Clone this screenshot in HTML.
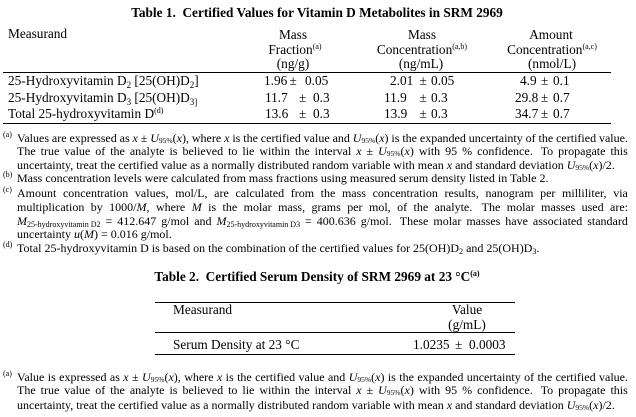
<!DOCTYPE html>
<html><head><meta charset="utf-8">
<style>
html,body{margin:0;padding:0;background:#fff;}
#p{position:relative;width:636px;height:417px;overflow:hidden;background:#fff;font-family:"Liberation Serif","Times New Roman",serif;color:#000;}
.t{position:absolute;white-space:nowrap;line-height:16px;font-size:13.3px;}
.c{transform:translateX(-50%);}
.b{font-weight:bold;}
.ln{position:absolute;height:1.5px;background:#000;}
.f{position:absolute;left:17px;font-size:12px;line-height:14px;white-space:nowrap;}
.j{width:611px;display:flex;justify-content:space-between;}
.m{position:absolute;left:3px;font-size:8px;line-height:10px;white-space:nowrap;}
.sup{font-size:8px;vertical-align:5px;line-height:0;}
.sub{font-size:9px;vertical-align:-3px;line-height:0;}
.u{font-size:7.5px;vertical-align:-1px;line-height:0;}
.fs{font-size:8px;vertical-align:-2px;line-height:0;}
i{font-style:italic;}
</style></head><body>
<div id="p">
<!-- Table 1 -->
<div class="t b c" style="left:317px;top:4.5px;">Table 1.&nbsp; Certified Values for Vitamin D Metabolites in SRM 2969</div>
<div class="t" style="left:8px;top:25.5px;">Measurand</div>
<div class="t c" style="left:293px;top:26.5px;">Mass</div>
<div class="t c" style="left:295px;top:41.5px;">Fraction<span class="sup">(a)</span></div>
<div class="t c" style="left:293px;top:55.5px;">(ng/g)</div>
<div class="t c" style="left:422px;top:26.5px;">Mass</div>
<div class="t c" style="left:422px;top:41.5px;">Concentration<span class="sup">(a,b)</span></div>
<div class="t c" style="left:421px;top:55.5px;">(ng/mL)</div>
<div class="t c" style="left:551px;top:26.5px;">Amount</div>
<div class="t c" style="left:552px;top:41.5px;">Concentration<span class="sup">(a,c)</span></div>
<div class="t c" style="left:552px;top:55.5px;">(nmol/L)</div>
<div class="ln" style="left:3px;width:608px;top:71.5px;"></div>

<div class="t" style="left:8px;top:72.5px;">25-Hydroxyvitamin D<span class="sub">2</span> [25(OH)D<span class="sub">2</span>]</div>
<div class="t" style="left:8px;top:89.5px;">25-Hydroxyvitamin D<span class="sub">3</span> [25(OH)D<span class="sub">3]</span></div>
<div class="t" style="left:8px;top:105.5px;">Total 25-hydroxyvitamin D<span class="sup">(d)</span></div>

<div class="t" style="left:264px;top:72.5px;">1.96</div>
<div class="t" style="left:289.5px;top:72.5px;">±</div>
<div class="t" style="left:305px;top:72.5px;">0.05</div>
<div class="t" style="left:265px;top:89.5px;">11.7</div>
<div class="t" style="left:299px;top:89.5px;">±</div>
<div class="t" style="left:313px;top:89.5px;">0.3</div>
<div class="t" style="left:265px;top:105.5px;">13.6</div>
<div class="t" style="left:299px;top:105.5px;">±</div>
<div class="t" style="left:313px;top:105.5px;">0.3</div>

<div class="t" style="left:390px;top:72.5px;">2.01</div>
<div class="t" style="left:419.5px;top:72.5px;">±</div>
<div class="t" style="left:431px;top:72.5px;">0.05</div>
<div class="t" style="left:384px;top:89.5px;">11.9</div>
<div class="t" style="left:419.5px;top:89.5px;">±</div>
<div class="t" style="left:431px;top:89.5px;">0.3</div>
<div class="t" style="left:384px;top:105.5px;">13.9</div>
<div class="t" style="left:419.5px;top:105.5px;">±</div>
<div class="t" style="left:431px;top:105.5px;">0.3</div>

<div class="t" style="left:520px;top:72.5px;">4.9</div>
<div class="t" style="left:541px;top:72.5px;">±</div>
<div class="t" style="left:553px;top:72.5px;">0.1</div>
<div class="t" style="left:515px;top:89.5px;">29.8</div>
<div class="t" style="left:541px;top:89.5px;">±</div>
<div class="t" style="left:553px;top:89.5px;">0.7</div>
<div class="t" style="left:515px;top:105.5px;">34.7</div>
<div class="t" style="left:541px;top:105.5px;">±</div>
<div class="t" style="left:553px;top:105.5px;">0.7</div>
<div class="ln" style="left:3px;width:608px;top:122.5px;"></div>

<!-- Footnotes table 1 -->
<div class="m" style="top:130px;">(a)</div>
<div class="f j" style="top:131px;"><span>Values</span><span>are</span><span>expressed</span><span>as</span><span><i>x</i></span><span>±</span><span><i>U</i><span class="u">95%</span>(<i>x</i>),</span><span>where</span><span><i>x</i></span><span>is</span><span>the</span><span>certified</span><span>value</span><span>and</span><span><i>U</i><span class="u">95%</span>(<i>x</i>)</span><span>is</span><span>the</span><span>expanded</span><span>uncertainty</span><span>of</span><span>the</span><span>certified</span><span>value.</span></div>
<div class="f j" style="top:144px;"><span>The</span><span>true</span><span>value</span><span>of</span><span>the</span><span>analyte</span><span>is</span><span>believed</span><span>to</span><span>lie</span><span>within</span><span>the</span><span>interval</span><span><i>x</i></span><span>±</span><span><i>U</i><span class="u">95%</span>(<i>x</i>)</span><span>with</span><span>95</span><span>%</span><span>confidence.&nbsp;</span><span>To</span><span>propagate</span><span>this</span></div>
<div class="f" style="top:158px;">uncertainty, treat the certified value as a normally distributed random variable with mean <i>x</i> and standard deviation <i>U</i><span class="u">95%</span>(<i>x</i>)/2.</div>
<div class="m" style="top:170px;">(b)</div>
<div class="f" style="top:171px;">Mass concentration levels were calculated from mass fractions using measured serum density listed in Table 2.</div>
<div class="m" style="top:185px;">(c)</div>
<div class="f j" style="top:186px;"><span>Amount</span><span>concentration</span><span>values,</span><span>mol/L,</span><span>are</span><span>calculated</span><span>from</span><span>the</span><span>mass</span><span>concentration</span><span>results,</span><span>nanogram</span><span>per</span><span>milliliter,</span><span>via</span></div>
<div class="f j" style="top:200px;"><span>multiplication</span><span>by</span><span>1000/<i>M</i>,</span><span>where</span><span><i>M</i></span><span>is</span><span>the</span><span>molar</span><span>mass,</span><span>grams</span><span>per</span><span>mol,</span><span>of</span><span>the</span><span>analyte.&nbsp;</span><span>The</span><span>molar</span><span>masses</span><span>used</span><span>are:</span></div>
<div class="f j" style="top:214px;"><span><i>M</i><span class="fs">25-hydroxyvitamin D2</span></span><span>=</span><span>412.647</span><span>g/mol</span><span>and</span><span><i>M</i><span class="fs">25-hydroxyvitamin D3</span></span><span>=</span><span>400.636</span><span>g/mol.&nbsp;</span><span>These</span><span>molar</span><span>masses</span><span>have</span><span>associated</span><span>standard</span></div>
<div class="f" style="top:227px;">uncertainty <i>u</i>(<i>M</i>) = 0.016 g/mol.</div>
<div class="m" style="top:240px;">(d)</div>
<div class="f" style="top:241px;">Total 25-hydroxyvitamin D is based on the combination of the certified values for 25(OH)D<span class="fs">2</span> and 25(OH)D<span class="fs">3</span>.</div>

<!-- Table 2 -->
<div class="t b c" style="left:317px;top:268.5px;">Table 2.&nbsp; Certified Serum Density of SRM 2969 at 23 °C<span class="sup">(a)</span></div>
<div class="ln" style="left:155px;width:360px;top:301.5px;"></div>
<div class="t" style="left:173px;top:301.5px;">Measurand</div>
<div class="t c" style="left:467px;top:301.5px;">Value</div>
<div class="t c" style="left:467px;top:316.5px;">(g/mL)</div>
<div class="ln" style="left:155px;width:360px;top:331.5px;"></div>
<div class="t" style="left:173px;top:336.5px;">Serum Density at 23 °C</div>
<div class="t" style="left:413px;top:336.5px;">1.0235</div>
<div class="t" style="left:455px;top:336.5px;">±</div>
<div class="t" style="left:469px;top:336.5px;">0.0003</div>
<div class="ln" style="left:155px;width:360px;top:353.5px;"></div>

<!-- Footnote table 2 -->
<div class="m" style="top:369px;">(a)</div>
<div class="f j" style="top:370px;"><span>Value</span><span>is</span><span>expressed</span><span>as</span><span><i>x</i></span><span>±</span><span><i>U</i><span class="u">95%</span>(<i>x</i>),</span><span>where</span><span><i>x</i></span><span>is</span><span>the</span><span>certified</span><span>value</span><span>and</span><span><i>U</i><span class="u">95%</span>(<i>x</i>)</span><span>is</span><span>the</span><span>expanded</span><span>uncertainty</span><span>of</span><span>the</span><span>certified</span><span>value.</span></div>
<div class="f j" style="top:383px;"><span>The</span><span>true</span><span>value</span><span>of</span><span>the</span><span>analyte</span><span>is</span><span>believed</span><span>to</span><span>lie</span><span>within</span><span>the</span><span>interval</span><span><i>x</i></span><span>±</span><span><i>U</i><span class="u">95%</span>(<i>x</i>)</span><span>with</span><span>95</span><span>%</span><span>confidence.&nbsp;</span><span>To</span><span>propagate</span><span>this</span></div>
<div class="f" style="top:398px;">uncertainty, treat the certified value as a normally distributed random variable with mean <i>x</i> and standard deviation <i>U</i><span class="u">95%</span>(<i>x</i>)/2.</div>
</div>
</body></html>
